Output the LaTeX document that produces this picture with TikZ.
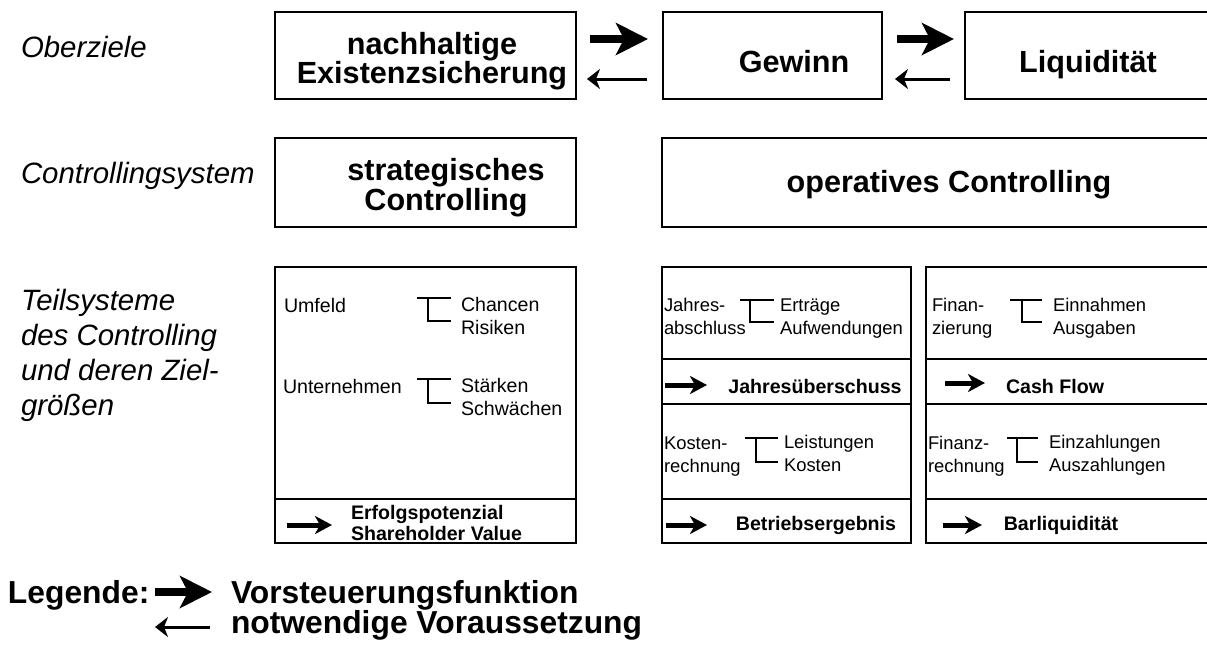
\documentclass[tikz,border=0pt]{standalone}
\usepackage{fontspec}
\setmainfont{Liberation Sans}
\usetikzlibrary{arrows.meta, positioning}

\newcommand\fklein{\fontsize{9.8}{11.25}\selectfont}
\newcommand\fkleiner{\fontsize{9.2}{11.25}\selectfont}
\newcommand\fgross{\fontsize{15.3}{14.5}\selectfont\bfseries}
\newcommand\flegende{\fontsize{15.9}{15}\selectfont\bfseries}
\newcommand\febene{\fontsize{14.7}{17.5}\selectfont\itshape}

\begin{document}
\begin{tikzpicture}[
    x=0.5pt, y=-0.5pt,
    every node/.style={inner sep=0pt, outer sep=0pt},
    box/.style={draw, line width=1.3pt},
    ebene/.style={font=\febene, align=left, anchor=base west},
    gross/.style={font=\fgross, align=center, anchor=base},
    klein/.style={font=\fklein, align=left, anchor=base west},
    kleiner/.style={font=\fkleiner, align=left, anchor=base west},
    band/.style={font=\fklein\bfseries},
    gabel/.style={line width=1.3pt},
    vorst/.style={line width=4pt, -{Stealth[length=16pt, width=16pt, inset=4pt]}},
    voraus/.style={line width=1.5pt, -{Stealth[length=6.5pt, width=10pt, inset=2pt]}},
    pfeil/.style={line width=2.5pt, -{Stealth[length=8.5pt, width=9pt, inset=2.5pt]}},
]

\clip (0,0) rectangle (1207,644);

% Ebenen links (base = letzte Zeile)
\node[ebene] (oberziele) at (21,57) {Oberziele};
\node[ebene] (csystem) at (21,183) {Controllingsystem};
\node[ebene] (teilsys) at (21,415) {Teilsysteme\\des Controlling\\und deren Ziel-\\größen};

% === Oberziele ===
\node[box, minimum width=150.5pt, minimum height=43.5pt] (ziel1) at (425.5,55.5) {};
\node[box, minimum width=109.5pt, minimum height=43.5pt] (gewinn) at (772.5,55.5) {};
\node[box, minimum width=122.5pt, minimum height=43.5pt] (liqui) at (1087.5,55.5) {};
\node[gross] (t-ziel1) at (432,83) {nachhaltige\\Existenzsicherung};
\node[gross] (t-gewinn) at (794,72) {Gewinn};
\node[gross] (t-liqui) at (1088,72) {Liquidität};

\draw[vorst, shorten <=7pt, shorten >=7.5pt] ([yshift=8.25pt]ziel1.east) -- ([yshift=8.25pt]gewinn.west);
\draw[voraus, shorten <=8pt, shorten >=5.5pt] ([yshift=-11.75pt]gewinn.west) -- ([yshift=-11.75pt]ziel1.east);
\draw[vorst, shorten <=7.5pt, shorten >=5.5pt] ([yshift=8.25pt]gewinn.east) -- ([yshift=8.25pt]liqui.west);
\draw[voraus, shorten <=7.5pt, shorten >=6.5pt] ([yshift=-11.75pt]liqui.west) -- ([yshift=-11.75pt]gewinn.east);

% === Controllingsystem ===
\node[box, minimum width=150.5pt, minimum height=44.5pt] (strat) at (425.5,182.5) {};
\node[box, minimum width=274pt, minimum height=44.5pt] (oper) at (936,182.5) {};
\node[gross, font=\fontsize{15.3}{15}\selectfont\bfseries] (t-strat) at (446,210) {strategisches\\Controlling};
\node[gross] (t-oper) at (949,192) {operatives Controlling};

% === Teilsysteme: strategisch ===
\node[box, minimum width=150.5pt, minimum height=116pt] (umfeld) at (425.5,383) {};
\node[box, minimum width=150.5pt, minimum height=22pt] (erfolg) at (425.5,521) {};
\node[klein] (t-umfeld) at (284,312) {Umfeld};
\node[klein] (t-chancen) at (461,334) {Chancen\\Risiken};
\node[klein] (t-untern) at (283,393) {Unternehmen};
\node[klein] (t-staerken) at (461,415) {Stärken\\Schwächen};
\node[band, align=left, anchor=base west, font=\fontsize{9.8}{10.25}\selectfont\bfseries] (t-erfolg) at (351,540) {Erfolgspotenzial\\Shareholder Value};
\draw[pfeil] ([xshift=6pt, yshift=-2pt]erfolg.west) -- ++(22.5pt,0);

% === Teilsysteme: operativ, Jahresabschluss / Kostenrechnung ===
\node[box, minimum width=124.5pt, minimum height=46pt] (jab) at (786.5,313) {};
\node[box, minimum width=124.5pt, minimum height=22.5pt] (jue) at (786.5,381.5) {};
\node[box, minimum width=124.5pt, minimum height=47.5pt] (kre) at (786.5,451.5) {};
\node[box, minimum width=124.5pt, minimum height=22pt] (bet) at (786.5,521) {};
\node[kleiner] (t-jab) at (664,334) {Jahres-\\abschluss};
\node[kleiner] (t-ertr) at (780,334) {Erträge\\Aufwendungen};
\node[band] (t-jue) at (815,386) {Jahresüberschuss};
\node[kleiner] (t-kre) at (664,472) {Kosten-\\rechnung};
\node[kleiner] (t-leist) at (784,471) {Leistungen\\Kosten};
\node[band] (t-bet) at (816,525) {Betriebsergebnis};
\draw[pfeil] ([xshift=1.5pt, yshift=-1.75pt]jue.west) -- ++(21pt,0);
\draw[pfeil] ([xshift=2pt, yshift=-2pt]bet.west) -- ++(20.5pt,0);

% === Teilsysteme: operativ, Finanzierung / Finanzrechnung ===
\node[box, minimum width=142pt, minimum height=46pt] (fin) at (1068,313) {};
\node[box, minimum width=142pt, minimum height=22.5pt] (cash) at (1068,381.5) {};
\node[box, minimum width=142pt, minimum height=47.5pt] (fre) at (1068,451.5) {};
\node[box, minimum width=142pt, minimum height=22pt] (barl) at (1068,521) {};
\node[kleiner] (t-fin) at (932,334) {Finan-\\zierung};
\node[kleiner] (t-einn) at (1053,334) {Einnahmen\\Ausgaben};
\node[band] (t-cash) at (1055,386) {Cash Flow};
\node[kleiner] (t-fre) at (928,472) {Finanz-\\rechnung};
\node[kleiner] (t-einz) at (1049,471) {Einzahlungen\\Auszahlungen};
\node[band] (t-barl) at (1061,525) {Barliquidität};
\draw[pfeil] ([xshift=9.5pt, yshift=-0.75pt]cash.west) -- ++(20pt,0);
\draw[pfeil] ([xshift=8.5pt, yshift=-2pt]barl.west) -- ++(19.5pt,0);

% Gabeln
\foreach \a/\b/\c/\t/\u in {417/428/451/298/321, 417/428/451/379/403, 740/750/774/300/322,
                             745/756/778/438/462, 1010/1022/1042/300/322, 1007/1017/1038/438/462}
    \draw[gabel] (\a,\t) -- (\c,\t) (\b,\t) -- (\b,\u) -- (\c,\u);

% === Legende ===
\node[font=\flegende, anchor=base west] (legende) at (8,603) {Legende:};
\node[font=\flegende, anchor=base west] (l-vorst) at (231,603) {Vorsteuerungsfunktion};
\node[font=\flegende, anchor=base west] (l-voraus) at (231,633) {notwendige Voraussetzung};
\coordinate (lv) at (155,592);
\coordinate (lr) at (210,627);
\draw[vorst] (lv) -- ++(28.5pt,0);
\draw[voraus] (lr) -- ++(-27.5pt,0);

\end{tikzpicture}
\end{document}
